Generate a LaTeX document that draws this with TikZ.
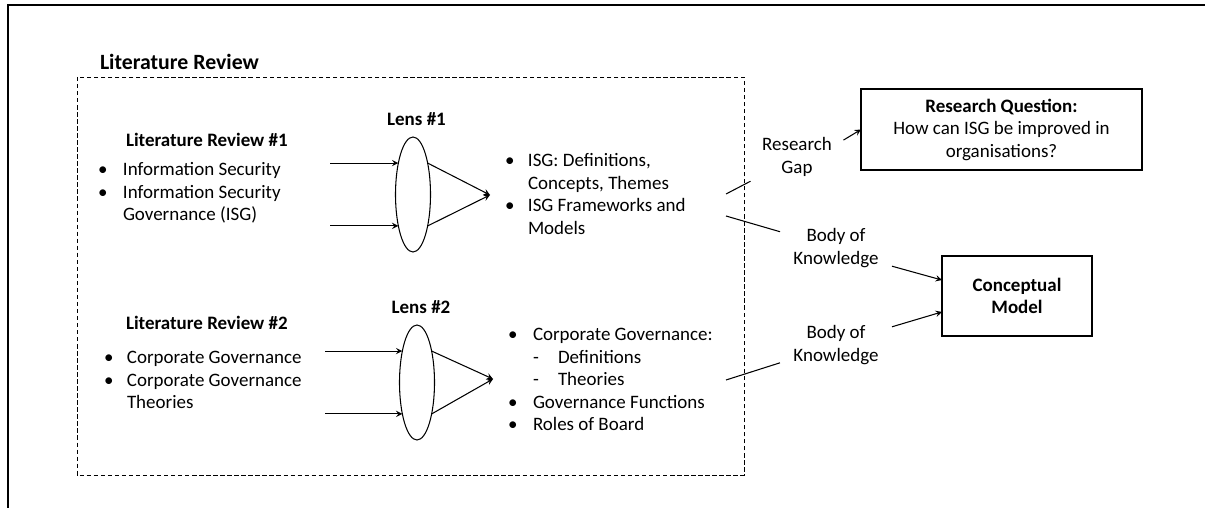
\documentclass[tikz,border=0pt]{standalone}
\usepackage{fontspec}
\setmainfont{Carlito}
\usetikzlibrary{shapes.geometric}
\begin{document}
\begin{tikzpicture}[
  txt/.style={font=\fontsize{10.8}{12.8}\selectfont, inner sep=0pt, outer sep=0pt},
  hd/.style={txt, font=\fontsize{10.8}{12.8}\selectfont\bfseries},
  lens/.style={draw, semithick, ellipse, minimum width=0.7cm, minimum height=2.3cm, inner sep=0pt, outer sep=0pt},
  lbl/.style={txt, fill=white, align=center, minimum width=2.24cm, minimum height=1.08cm},
  box/.style={txt, draw, thick, align=center}
]
\useasboundingbox (0,0) rectangle (24.1,10.16);
\draw [line width=1.2pt] (0.16,0) -- (0.16,10.06) -- (24.1,10.06);
\node [hd, font=\fontsize{12.4}{14}\selectfont\bfseries, anchor=west] (title) at (2.0,8.92) {Literature Review};
\draw [dash pattern=on 2.5pt off 1.5pt] (1.54,8.62) rectangle (14.88,0.66);
% literature review 1
\node [hd, anchor=west] (lr1head) at (2.52,7.36) {Literature Review \#1};
\node [txt, anchor=base west] (lr1) at (1.96,6.64) {\begin{tabular}[t]{@{}p{0.5cm}@{}l@{}}
\textbullet & Information Security\\
\textbullet & Information Security\\
 & Governance (ISG)
\end{tabular}};
\node [lens] (lens1) at (8.26,6.27) {};
\node [hd] (lens1head) at (8.33,7.78) {Lens \#1};
\coordinate (in1) at (6.6,6.27);
\draw [semithick, -stealth] (lens1.115 -| in1) -- (lens1.115);
\draw [semithick, -stealth] (lens1.245 -| in1) -- (lens1.245);
\coordinate (f1) at (9.8,6.26);
\draw [semithick, -stealth] (lens1.65) -- (f1);
\draw [semithick, -stealth] (lens1.-65) -- (f1);
\node [txt, anchor=base west] (out1) at (10.1,6.82) {\begin{tabular}[t]{@{}p{0.46cm}@{}l@{}}
\textbullet & ISG: Definitions,\\
 & Concepts, Themes\\
\textbullet & ISG Frameworks and\\
 & Models
\end{tabular}};
% literature review 2
\node [hd, anchor=west] (lr2head) at (2.52,3.70) {Literature Review \#2};
\node [txt, anchor=base west] (lr2) at (2.08,2.88) {\begin{tabular}[t]{@{}p{0.46cm}@{}l@{}}
\textbullet & Corporate Governance\\
\textbullet & Corporate Governance\\
 & Theories
\end{tabular}};
\node [lens] (lens2) at (8.34,2.51) {};
\node [hd] (lens2head) at (8.42,4.02) {Lens \#2};
\coordinate (in2) at (6.5,2.51);
\draw [semithick, -stealth] (lens2.115 -| in2) -- (lens2.115);
\draw [semithick, -stealth] (lens2.245 -| in2) -- (lens2.245);
\coordinate (f2) at (9.86,2.58);
\draw [semithick, -stealth] (lens2.65) -- (f2);
\draw [semithick, -stealth] (lens2.-65) -- (f2);
\node [txt, anchor=base west] (out2) at (10.16,3.34) {\begin{tabular}[t]{@{}p{0.5cm}@{}l@{}}
\textbullet & Corporate Governance:\\
 & \makebox[0.5cm][l]{-}Definitions\\
 & \makebox[0.5cm][l]{-}Theories\\
\textbullet & Governance Functions\\
\textbullet & Roles of Board
\end{tabular}};
% right side
\node [lbl, minimum width=1.86cm, minimum height=1.04cm] (gap) at (15.94,7.02) {Research\\Gap};
\node [box, minimum width=5.62cm, minimum height=1.62cm] (rq) at (20.03,7.57) {\textbf{Research Question:}\\How can ISG be improved in\\organisations?};
\node [lbl] (body1) at (16.72,5.2) {Body of\\Knowledge};
\node [lbl] (body2) at (16.72,3.26) {Body of\\Knowledge};
\node [box, font=\fontsize{10.8}{12.8}\selectfont\bfseries, minimum width=3.0cm, minimum height=1.6cm] (cm) at (20.34,4.24) {Conceptual\\Model};
\coordinate (c1) at (14.52,6.28);
\coordinate (c2) at (14.52,5.84);
\coordinate (c3) at (14.52,2.56);
\draw [semithick] (c1) -- (gap);
\draw [semithick] (c2) -- (body1);
\draw [semithick] (c3) -- (body2);
\draw [semithick, -stealth] (gap.20) -- (rq.west);
\draw [semithick, -stealth] (body1.-18) -- (cm.168);
\draw [semithick, -stealth] (body2.18) -- (cm.192);
\end{tikzpicture}
\end{document}
